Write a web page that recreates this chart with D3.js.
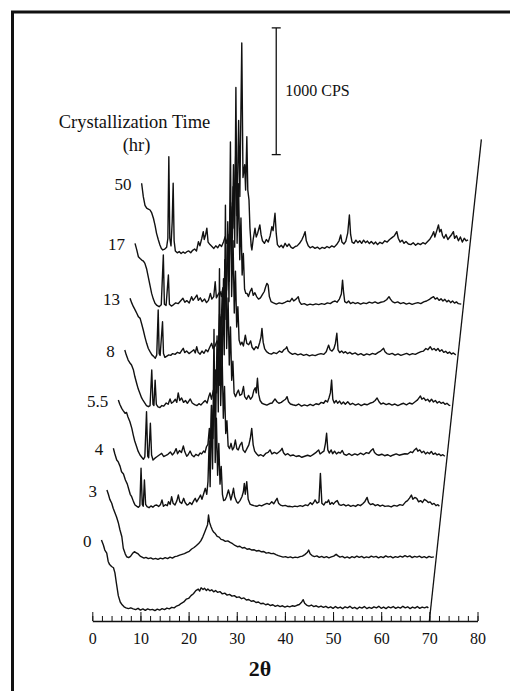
<!DOCTYPE html>
<html lang="en">
<head>
<meta charset="UTF-8">
<title>XRD vs crystallization time</title>
<script src="https://d3js.org/d3.v7.min.js"></script>
<style>
  body { margin: 0; background: #fff; }
  svg { display: block; font-family: "Liberation Serif", "Times New Roman", "DejaVu Serif", serif; }
  svg text { font-family: "Liberation Serif", "Times New Roman", "DejaVu Serif", serif; }
  .trace { fill: none; stroke: #111; stroke-width: 1.4; stroke-linejoin: round; }
  .axis path, .axis line { stroke: #111; }
  .axis text { font-size: 16px; fill: #111; }
</style>
</head>
<body>
<svg id="chart" width="510" height="691"></svg>
<script>
// crystallization time of each pattern (hr), bottom to top
var times = ["0", "3", "4", "5.5", "8", "13", "17", "50"];
// vertical offset of each pattern (CPS)
var offsets = [0, 400, 800, 1200, 1600, 2000, 2400, 2900];
var xTicks = [0, 10, 20, 30, 40, 50, 60, 70, 80];

// [2theta, CPS]
var xrd0h = [[1.9,640],[2.3,600],[2.6,560],[3.0,535],[3.3,470],[3.6,445],[4.0,430],[4.4,420],[4.7,380],[5.0,300],[5.4,200],[5.8,150],[6.2,128],[6.6,112],[7.0,104],[7.5,98],[8.0,104],[8.5,96],
  [9.0,90],[9.5,100],[10.0,86],[10.5,95],[11.0,84],[11.5,96],[12.0,88],[12.5,92],[13.0,82],[13.5,94],[14.0,86],[14.5,97],[15.0,90],[15.5,102],[16.0,96],[16.5,108],[17.0,104],[17.5,118],
  [18.0,125],[18.5,140],[19.0,150],[19.5,172],[20.0,178],[20.5,200],[21.0,215],[21.5,240],[22.0,252],[22.3,236],[22.6,262],[23.0,248],[23.3,258],[23.7,240],[24.0,252],[24.4,238],[24.8,246],[25.2,230],[25.6,240],[26.0,226],[26.5,232],[27.0,214],[27.5,220],[28.0,204],[28.5,210],[29.0,196],[29.5,200],[30.0,186],[30.5,190],[31.0,176],[31.5,182],[32.0,166],[32.5,170],[33.0,156],[33.5,160],[34.0,146],[34.5,150],[35.0,136],[35.5,140],[36.0,128],[36.5,134],[37.0,122],[37.5,128],[38.0,116],[38.5,124],[39.0,114],[39.5,120],[40.0,110],[40.5,118],[41.0,112],[41.5,120],[42.0,116],[42.5,124],[43.0,130],[43.5,150],[43.8,168],[44.1,140],[44.5,126],[45.0,118],[45.5,126],[46.0,114],[46.5,120],[47.0,110],[47.5,118],[48.0,108],
  [48.5,116],[49.0,104],[49.5,112],[50.0,100],[50.5,114],[51.0,102],[51.5,110],[52.0,98],[52.5,112],[53.0,104],[53.5,116],[54.0,100],[54.5,108],[55.0,96],[55.5,110],[56.0,102],[56.5,114],[57.0,98],[57.5,108],[58.0,100],[58.5,112],[59.0,104],[59.5,116],[60.0,100],[60.5,110],[61.0,98],[61.5,112],[62.0,104],[62.5,114],[63.0,100],[63.5,110],[64.0,102],[64.5,116],[65.0,104],[65.5,112],[66.0,98],[66.5,110],[67.0,102],[67.5,114],[68.0,100],[68.5,110],[69.0,104],[69.5,112],[69.8,104]];

var xrd3h = [[1.9,634],[2.2,600],[2.5,560],[2.9,529],[3.2,490],[3.6,450],[3.9,420],[4.3,371],[4.6,320],[5.0,265],[5.3,174],[5.7,130],[6.0,107],[6.4,100],[6.8,110],[7.2,132],[7.6,147],[8.0,138],[8.4,129],[8.8,112],[9.2,104],[9.6,96],[10.0,102],[10.5,92],[11.0,98],[11.5,88],[12.0,94],[12.5,86],[13.0,96],[13.5,90],[14.0,100],[14.5,92],[15.0,104],[15.5,96],[16.0,108],[16.5,112],[17.0,120],[17.5,126],[18.0,132],[18.5,142],[19.0,150],[19.5,168],[20.0,180],[20.5,196],[21.0,214],[21.4,232],[21.8,262],[22.2,300],[22.5,330],[22.8,360],[23.0,436],[23.2,380],[23.5,345],[23.8,318],[24.1,300],[24.4,290],[24.8,268],[25.2,262],[25.6,244],[26.0,240],[26.5,228],[27.0,232],[27.5,220],[28.0,210],[28.5,196],[29.0,186],[29.5,190],[30.0,176],[30.5,180],[31.0,166],[31.5,170],[32.0,160],[32.5,162],[33.0,152],[33.5,156],[34.0,146],[34.5,148],[35.0,136],[35.5,140],[36.0,132],[36.5,134],[37.0,124],[37.5,116],[38.0,110],[38.5,104],[39.0,108],[39.5,100],[40.0,106],[40.5,98],[41.0,104],[41.5,100],[42.0,108],[42.5,112],[43.0,124],[43.5,140],[43.8,160],[44.1,130],[44.5,116],[45.0,108],[45.5,114],[46.0,102],[46.5,110],[47.0,100],[47.5,108],[48.0,98],[48.5,106],[49.0,112],[49.5,126],[49.9,114],[50.3,104],
  [50.8,110],[51.3,98],[51.8,106],[52.3,96],[52.8,108],[53.3,100],[53.8,112],[54.3,102],[54.8,110],[55.3,98],[55.8,106],[56.3,100],[56.8,112],[57.3,104],[57.8,110],[58.3,98],[58.8,108],[59.3,100],[59.8,114],[60.3,104],[60.8,110],[61.3,98],[61.8,108],[62.3,102],[62.8,112],[63.3,104],[63.8,116],[64.3,106],[64.8,114],[65.3,100],[65.8,110],[66.3,104],[66.8,112],[67.3,100],[67.8,108],[68.3,98],[68.8,110],[69.3,102],[69.8,106]];

var xrd4h = [[2.1,563],[2.4,520],[2.8,470],[3.1,457],[3.5,420],[3.8,378],[4.2,360],[4.6,312],[5.0,280],[5.3,240],[5.6,200],[5.9,181],[6.3,140],[6.6,115],[7.0,104],[7.3,97],[7.6,110],[7.85,405],[8.1,120],[8.3,105],[8.55,312],[8.8,120],[9.1,102],[9.5,94],[9.9,108],[10.3,98],[10.7,112],[11.1,115],[11.5,104],[11.9,120],[12.2,155],[12.5,105],[12.9,118],[13.3,110],[13.55,141],[13.9,120],[14.2,181],[14.5,130],[14.9,115],[15.3,150],[15.6,194],[15.9,140],[16.3,128],[16.7,168],[17.0,135],[17.4,115],[17.7,120],[18.0,135],[18.4,120],[18.8,150],[19.1,168],[19.4,140],[19.8,165],[20.2,194],[20.5,160],[20.9,210],[21.2,247],[21.5,200],
  [21.75,300],[22.0,620],[22.2,260],[22.45,900],[22.7,400],[23.0,1500],[23.25,450],[23.5,800],[23.75,350],[24.0,600],[24.25,280],[24.5,420],[24.75,200],[25.0,150],
  [25.3,155],[25.6,180],[26.0,234],[26.3,190],[26.5,155],[26.8,200],[27.05,247],[27.3,180],[27.7,141],[28.0,130],[28.4,150],[28.8,180],[29.1,220],[29.3,286],[29.5,200],[29.8,300],[30.1,160],[30.5,122],[30.9,115],[31.3,110],[31.9,105],[32.4,114],[32.9,108],[33.4,118],[34.0,128],[34.5,120],[35.0,141],[35.4,125],[35.8,150],[36.1,168],[36.4,130],[36.8,115],[37.3,108],[37.8,112],[38.3,104],[38.8,105],[39.3,100],[39.8,106],[40.3,102],[40.9,110],[41.4,104],[42.0,116],[42.5,110],[43.0,134],[43.4,120],[43.7,135],[44.0,155],[44.4,130],[44.8,140],[45.1,365],[45.4,130],[45.8,115],[46.2,140],[46.5,135],[46.8,155],[47.1,120],[47.5,135],[47.8,122],[48.2,140],[48.6,150],[49.0,118],[49.4,112],[49.9,120],[50.4,108],[50.9,116],[51.4,105],[51.9,112],[52.4,104],[52.9,118],[53.4,110],[53.9,125],[54.3,140],[54.6,162],[54.8,175],[55.1,135],[55.5,118],[56.0,125],[56.5,110],[57.0,118],[57.5,106],[58.0,114],[58.5,104],[59.2,108],[59.8,100],[60.4,112],[61.0,106],[61.6,118],[62.2,112],[62.8,140],[63.2,150],[63.6,170],[64.0,194],[64.3,160],[64.7,175],[65.1,168],[65.5,140],[65.9,150],[66.3,135],[66.7,160],[67.1,150],[67.5,135],[67.9,140],[68.3,120],[68.7,128],[69.1,110],[69.5,118],[69.8,105]];

var xrd5_5h = [[2.0,544],[2.3,510],[2.7,478],[3.0,460],[3.4,439],[3.7,446],[4.0,410],[4.4,372],[4.8,320],[5.1,267],[5.4,220],[5.8,175],[6.1,140],[6.5,110],[6.9,90],[7.2,76],[7.5,95],[7.85,451],[8.1,100],[8.3,88],[8.65,360],[8.9,110],[9.2,70],[9.6,85],[10.0,96],[10.5,110],[11.0,123],[11.4,98],[11.8,105],[12.3,115],[12.8,134],[13.2,110],[13.6,128],[14.0,160],[14.3,120],[14.7,145],[15.1,130],[15.5,181],[15.8,135],[16.2,100],[16.5,112],[16.9,141],[17.3,108],[17.7,96],[18.1,115],[18.6,104],[19.0,126],[19.3,118],[19.7,141],[20.0,130],[20.3,175],
  [20.6,194],[20.9,320],[21.1,180],[21.4,500],[21.65,240],[21.95,720],[22.2,330],[22.5,1050],[22.75,450],[23.0,1580],[23.25,500],[23.55,900],[23.8,400],[24.05,650],[24.3,280],[24.55,380],[24.8,180],[25.1,160],
  [25.4,202],[25.7,150],[26.0,170],[26.3,228],[26.6,160],[26.9,150],[27.3,190],[27.65,210],[27.9,150],[28.3,130],[28.7,160],[29.1,190],[29.4,240],[29.7,320],[30.0,190],[30.3,140],[30.7,120],[31.1,104],[31.6,112],[32.1,100],[32.6,122],[33.1,130],[33.5,150],[33.9,118],[34.4,130],[34.9,120],[35.4,135],[35.7,145],[36.0,163],[36.3,128],[36.7,110],[37.2,120],[37.7,104],[38.3,110],[38.9,98],[39.5,104],[40.1,92],[40.7,100],[41.3,108],[41.9,100],[42.5,115],[43.0,128],[43.3,140],[43.6,150],[43.9,118],[44.3,130],[44.7,140],[45.0,200],[45.25,281],[45.5,150],[45.8,125],[46.2,150],[46.5,120],[46.9,140],[47.3,118],[47.7,132],[48.1,125],[48.5,145],[48.9,115],[49.4,108],[49.9,120],[50.5,106],[51.1,118],[51.7,110],[52.3,124],[52.9,112],[53.5,128],[54.0,122],[54.5,145],[54.9,160],[55.2,130],[55.6,115],[56.1,108],[56.7,116],[57.3,104],[57.9,112],[58.5,100],[59.1,110],[59.7,118],[60.3,108],[60.9,114],[61.5,120],[62.1,118],[62.7,135],[63.1,128],[63.5,150],[63.9,163],[64.2,140],[64.6,150],[65.0,128],[65.4,140],[65.8,118],[66.2,132],[66.6,120],[67.0,138],[67.4,115],[67.8,125],[68.2,110],[68.6,118],[69.0,104],[69.4,112],[69.8,100]];

var xrd8h = [[2.2,538],[2.5,500],[2.9,459],[3.2,440],[3.6,420],[4.0,380],[4.3,327],[4.7,270],[5.0,230],[5.35,196],[5.7,160],[6.0,140],[6.4,117],[6.7,100],[7.1,91],[7.45,100],[7.8,380],[8.05,110],[8.25,100],[8.5,301],[8.75,110],[9.1,90],[9.5,84],[9.9,100],[10.3,95],[10.8,120],[11.2,110],[11.6,152],[11.9,118],[12.3,130],[12.7,150],[13.0,125],[13.3,200],[13.6,140],[14.0,160],[14.4,125],[14.8,140],[15.2,118],[15.8,152],[16.2,120],[16.7,108],[17.2,100],[17.6,115],[18.0,104],[18.5,125],[18.9,139],[19.3,120],[19.6,165],[19.9,200],[20.2,150],[20.6,222],
  [20.8,180],[21.05,380],[21.3,200],[21.6,560],[21.85,260],[22.15,800],[22.4,380],[22.7,1100],[22.85,500],[23.1,1680],[23.35,550],[23.65,950],[23.9,420],[24.15,720],[24.4,300],[24.65,450],[24.9,200],[25.2,170],
  [25.5,200],[25.8,222],[26.1,180],[26.5,190],[26.85,250],[27.1,170],[27.5,150],[27.9,180],[28.3,150],[28.7,170],[29.0,220],[29.3,240],[29.5,200],[29.75,315],[30.0,190],[30.3,140],[30.7,118],[31.2,110],[31.7,104],[32.3,116],[32.8,120],[33.4,152],[33.8,130],[34.2,118],[34.7,125],[35.2,140],[35.6,150],[35.9,170],[36.2,130],[36.6,112],[37.1,106],[37.7,100],[38.3,112],[38.9,96],[39.5,105],[40.1,98],[40.7,110],[41.3,100],[41.9,114],[42.5,108],[43.0,125],[43.5,118],[43.9,140],[44.3,128],[44.6,160],[44.9,200],[45.15,301],[45.4,150],[45.7,120],[46.1,140],[46.4,118],[46.8,135],[47.2,112],[47.6,128],[48.0,110],[48.5,130],[49.0,108],[49.5,118],[50.1,104],[50.7,114],[51.3,100],[51.9,112],[52.5,106],[53.1,118],[53.7,125],[54.2,140],[54.6,160],[55.0,130],[55.4,112],[55.9,120],[56.5,108],[57.1,116],[57.7,104],[58.3,112],[58.9,100],[59.5,110],[60.1,118],[60.7,106],[61.3,120],[61.9,112],[62.5,130],[63.0,145],[63.3,160],[63.6,175],[63.9,150],[64.3,160],[64.7,140],[65.1,150],[65.5,130],[65.9,150],[66.3,128],[66.7,140],[67.1,120],[67.5,132],[67.9,118],[68.3,126],[68.7,110],[69.1,118],[69.5,104],[69.8,100]];

var xrd13h = [[2.15,546],[2.5,510],[2.85,480],[3.2,455],[3.55,428],[3.9,400],[4.25,388],[4.6,340],[4.9,296],[5.25,240],[5.6,191],[5.95,150],[6.3,125],[6.7,100],[7.0,90],[7.4,73],[7.7,100],[8.0,454],[8.2,110],[8.4,95],[8.9,361],[9.1,110],[9.4,80],[9.8,90],[10.2,100],[10.6,96],[11.0,110],[11.5,104],[12.0,120],[12.5,112],[12.9,135],[13.2,152],[13.5,118],[13.9,130],[14.4,110],[14.9,125],[15.4,140],[15.7,115],[16.0,164],[16.3,120],[16.7,105],[17.1,130],[17.5,112],[17.9,140],[18.3,125],[18.7,160],[19.1,191],[19.4,150],[19.8,170],[20.2,210],[20.5,170],
  [20.75,420],[21.0,200],[21.3,600],[21.55,260],[21.85,850],[22.1,380],[22.45,1150],[22.7,520],[23.0,1780],[23.25,560],[23.55,1000],[23.8,430],[24.05,760],[24.3,320],[24.55,480],[24.8,217],[25.1,180],
  [25.4,200],[25.7,170],[26.1,256],[26.4,190],[26.8,180],[27.2,210],[27.5,160],[27.9,140],[28.3,165],[28.7,150],[29.1,200],[29.35,240],[29.55,309],[29.8,200],[30.1,150],[30.5,125],[31.0,112],[31.5,106],[32.0,118],[32.6,110],[33.2,130],[33.7,120],[34.1,140],[34.5,150],[34.7,164],[35.0,130],[35.4,115],[35.9,104],[36.4,112],[37.0,100],[37.6,108],[38.2,96],[38.8,104],[39.4,92],[40.0,100],[40.6,94],[41.2,104],[41.8,110],[42.4,104],[42.9,125],[43.4,177],[43.7,140],[44.1,130],[44.5,150],[44.8,190],[45.1,270],[45.35,140],[45.7,118],[46.1,130],[46.5,115],[46.9,125],[47.3,110],[47.8,120],[48.3,106],[48.9,115],[49.5,100],[50.1,110],[50.7,96],[51.3,108],[51.9,100],[52.5,112],[53.1,104],[53.7,120],[54.2,130],[54.6,145],[54.8,152],[55.1,125],[55.5,110],[56.0,104],[56.6,112],[57.2,98],[57.8,108],[58.4,96],[59.0,104],[59.6,112],[60.2,100],[60.8,110],[61.4,104],[62.0,115],[62.6,125],[63.1,130],[63.6,150],[64.0,140],[64.5,164],[64.9,140],[65.3,150],[65.7,135],[66.1,150],[66.5,128],[66.9,140],[67.3,120],[67.7,128],[68.1,112],[68.5,122],[68.9,106],[69.3,115],[69.8,100]];

var xrd17h = [[2.05,580],[2.4,530],[2.75,474],[3.1,460],[3.45,448],[3.8,440],[4.1,422],[4.45,380],[4.8,316],[5.15,250],[5.5,185],[5.85,140],[6.2,107],[6.6,90],[7.05,80],[7.5,95],[7.93,488],[8.15,100],[8.5,90],[8.98,330],[9.2,100],[9.6,85],[10.0,95],[10.5,110],[11.0,104],[11.5,125],[12.0,146],[12.4,115],[12.8,128],[13.3,110],[13.8,159],[14.1,130],[14.5,150],[14.9,172],[15.2,130],[15.6,150],[16.0,120],[16.5,140],[16.9,112],[17.3,130],[17.7,185],[18.0,140],[18.4,160],[18.7,277],[18.95,150],[19.3,175],[19.7,200],[20.0,160],[20.3,230],
  [20.55,180],[20.8,450],[21.05,210],[21.35,650],[21.6,280],[21.9,900],[22.15,400],[22.5,1200],[22.75,550],[23.0,1810],[23.25,580],[23.55,1050],[23.8,450],[24.05,780],[24.3,330],[24.55,500],[24.8,220],[25.05,185],
  [25.3,185],[25.6,160],[25.95,200],[26.3,225],[26.6,170],[26.95,190],[27.3,160],[27.7,140],[28.1,150],[28.5,175],[28.9,200],[29.2,240],[29.45,264],[29.7,250],[29.95,160],[30.3,120],[30.8,110],[31.4,100],[32.0,110],[32.6,104],[33.2,115],[33.7,125],[34.2,120],[34.65,146],[35.0,125],[35.5,140],[35.95,159],[36.2,120],[36.6,98],[37.2,104],[37.8,92],[38.4,100],[39.0,94],[39.6,102],[40.2,96],[40.8,104],[41.4,98],[42.0,110],[42.6,104],[43.1,118],[43.6,125],[44.0,115],[44.5,140],[44.9,180],[45.15,290],[45.35,200],[45.6,120],[46.0,110],[46.4,125],[46.8,105],[47.3,115],[47.8,104],[48.3,112],[48.9,100],[49.5,110],[50.1,104],[50.7,116],[51.3,108],[51.9,118],[52.5,106],[53.1,115],[53.7,120],[54.3,135],[54.8,159],[55.1,140],[55.5,120],[56.0,110],[56.6,118],[57.2,104],[57.8,112],[58.4,100],[59.0,108],[59.6,98],[60.2,106],[60.8,112],[61.4,104],[62.0,118],[62.6,125],[63.1,135],[63.6,150],[64.05,159],[64.4,140],[64.8,150],[65.2,130],[65.6,142],[66.0,125],[66.4,138],[66.8,118],[67.2,130],[67.6,112],[68.0,125],[68.4,108],[68.8,118],[69.2,104],[69.8,100]];

var xrd50h = [[2.0,554],[2.35,448],[2.7,380],[3.05,357],[3.4,350],[3.75,343],[4.1,320],[4.45,278],[4.8,220],[5.1,159],[5.45,110],[5.8,67],[6.1,40],[6.4,28],[6.8,35],[7.2,50],[7.45,120],[7.65,764],[7.85,120],[8.1,60],[8.35,250],[8.55,554],[8.75,100],[9.0,20],[9.4,5],[9.8,15],[10.2,0],[10.6,12],[11.0,2],[11.4,14],[11.8,20],[12.2,6],[12.6,25],[13.0,35],[13.4,20],[13.8,93],[14.1,60],[14.5,120],[14.8,172],[15.0,110],[15.3,150],[15.55,199],[15.8,90],[16.2,70],[16.6,55],[17.0,40],[17.4,60],[17.8,45],[18.2,70],[18.6,55],[19.0,90],[19.35,133],[19.6,80],[19.9,120],[20.2,100],
  [20.5,369],[20.7,150],[21.0,527],[21.2,200],[21.55,800],[21.8,300],[22.15,1050],[22.4,450],[22.8,1661],[23.05,600],[23.4,700],[23.6,500],[23.85,922],[24.05,500],[24.3,422],[24.5,200],[24.75,60],[24.9,28],
  [25.2,120],[25.55,199],[25.8,130],[26.1,160],[26.55,225],[26.8,150],[27.1,100],[27.5,80],[27.9,110],[28.3,90],[28.7,140],[29.05,212],[29.3,180],[29.7,317],[29.95,160],[30.2,70],[30.6,50],[31.0,65],[31.4,45],[31.8,80],[32.2,55],[32.6,75],[33.0,50],[33.4,40],[33.9,55],[34.3,60],[34.8,80],[35.3,110],[35.65,140],[35.95,172],[36.2,100],[36.6,60],[37.0,45],[37.5,55],[38.0,40],[38.5,50],[39.0,35],[39.5,48],[40.0,40],[40.5,55],[41.0,45],[41.5,60],[42.0,50],[42.5,70],[43.0,100],[43.35,146],[43.6,90],[44.0,75],[44.4,95],[44.8,160],[45.15,304],[45.4,150],[45.7,90],[46.1,80],[46.5,105],[46.9,85],[47.3,100],[47.7,80],[48.1,105],[48.5,85],[48.9,98],[49.3,78],[49.7,95],[50.2,75],[50.6,90],[51.0,70],[51.5,88],[52.0,78],[52.5,100],[53.0,90],[53.5,110],[54.0,125],[54.5,140],[55.0,172],[55.3,120],[55.7,90],[56.1,105],[56.5,80],[56.9,95],[57.4,75],[57.9,70],[58.4,85],[58.9,65],[59.4,80],[59.9,70],[60.4,85],[60.9,75],[61.4,95],[61.9,115],[62.3,140],[62.65,172],[62.9,130],[63.3,180],[63.65,225],[63.9,170],[64.2,190],[64.5,140],[64.8,120],[65.2,150],[65.6,110],[66.0,130],[66.4,150],[66.75,172],[67.0,120],[67.4,140],[67.8,100],[68.2,130],[68.6,90],[69.0,120],[69.4,100],[69.8,107]];

var patterns = [xrd0h, xrd3h, xrd4h, xrd5_5h, xrd8h, xrd13h, xrd17h, xrd50h];

const svg = d3.select("#chart");
const x = d3.scaleLinear().domain([0, 80]).range([92.3, 477.5]);
const y = d3.scaleLinear().domain([0, 4900]).range([621, 0]);
const skew = 0.108;   // sideways drift of the stack, px per px of height
const serif = "'Liberation Serif', 'Times New Roman', 'DejaVu Serif', serif";

// x position of a point of a pattern lifted by `off` CPS
function sx(theta, off) { return x(theta) + skew * (y(0) - y(off)); }

// frame
svg.append("rect")
  .attr("x", 12.5).attr("y", 12)
  .attr("width", 600).attr("height", 800)
  .attr("fill", "none").attr("stroke", "#111").attr("stroke-width", 3);

// patterns
patterns.forEach(function(p, i) {
  var off = offsets[i];
  var line = d3.line()
    .x(d => sx(d[0], off))
    .y(d => y(off + d[1]));
  svg.append("path").attr("class", "trace").attr("d", line(p));

  svg.append("text")
    .attr("x", sx(p[0][0], off) - 10)
    .attr("y", y(off + p[0][1]) + 7)
    .attr("text-anchor", "end")
    .attr("font-family", serif)
    .attr("font-size", 17)
    .attr("fill", "#111")
    .text(times[i]);
});

// slanted 70 deg line of the stack
var diagTop = 3800;
svg.append("line")
  .attr("x1", sx(70, 0)).attr("y1", y(0))
  .attr("x2", sx(70, diagTop)).attr("y2", y(diagTop))
  .attr("stroke", "#111").attr("stroke-width", 1.3);

// x axis: major ticks every 10, minor every 2, both pointing up
svg.append("g")
  .attr("class", "axis")
  .attr("transform", `translate(0,${y(0)})`)
  .call(d3.axisBottom(x).tickValues(d3.range(0, 81, 2)).tickSize(-5).tickSizeOuter(0).tickFormat(""))
  .select(".domain").attr("stroke-width", 1.5);

svg.append("g")
  .attr("class", "axis")
  .attr("transform", `translate(0,${y(0)})`)
  .attr("font-family", serif)
  .call(d3.axisBottom(x).tickValues(xTicks).tickSize(-9).tickSizeOuter(0).tickPadding(12).tickFormat(d3.format("d")))
  .call(g => g.attr("font-family", serif).attr("font-size", 16))
  .call(g => g.select(".domain").remove());

svg.append("text")
  .attr("x", 260).attr("y", 676)
  .attr("text-anchor", "middle")
  .attr("font-family", serif)
  .attr("font-size", 22).attr("font-weight", "bold")
  .attr("fill", "#111")
  .text("2θ");

// 1000 CPS scale bar
var barLo = 3680, barHi = 4680, barX = x(38.2);
var bar = svg.append("g").attr("stroke", "#111").attr("stroke-width", 1.3);
bar.append("line").attr("x1", barX).attr("x2", barX).attr("y1", y(barLo)).attr("y2", y(barHi));
bar.append("line").attr("x1", barX - 4.5).attr("x2", barX + 4.5).attr("y1", y(barLo)).attr("y2", y(barLo));
bar.append("line").attr("x1", barX - 4.5).attr("x2", barX + 4.5).attr("y1", y(barHi)).attr("y2", y(barHi));
svg.append("text")
  .attr("x", barX + 9).attr("y", (y(barLo) + y(barHi)) / 2 + 4.5)
  .attr("font-family", serif)
  .attr("font-size", 16).attr("fill", "#111")
  .text("1000 CPS");

// legend title
svg.append("text")
  .attr("x", 134.5).attr("y", 128)
  .attr("text-anchor", "middle").attr("font-family", serif)
  .attr("font-size", 18.5).attr("fill", "#111")
  .text("Crystallization Time");
svg.append("text")
  .attr("x", 136.5).attr("y", 150.5)
  .attr("text-anchor", "middle").attr("font-family", serif)
  .attr("font-size", 18.5).attr("fill", "#111")
  .text("(hr)");
</script>
</body>
</html>
